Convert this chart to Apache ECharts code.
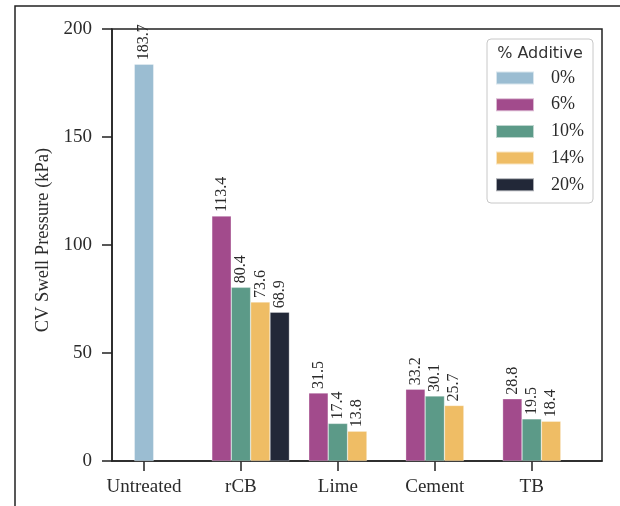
<!DOCTYPE html>
<html>
<head>
<meta charset="utf-8">
<script src="https://cdn.jsdelivr.net/npm/echarts@6/dist/echarts.min.js"></script>
<style>
  html, body { margin: 0; padding: 0; background: #fff; }
  #chart { width: 620px; height: 506px; }
</style>
</head>
<body>
<div id="chart"></div>
<script>
const categories = ["Untreated", "rCB", "Lime", "Cement", "TB"];
const additives = ["0%", "6%", "10%", "14%", "20%"];
const pct0 = [183.7, null, null, null, null];
const pct6 = [null, 113.4, 31.5, 33.2, 28.8];
const pct10 = [null, 80.4, 17.4, 30.1, 19.5];
const pct14 = [null, 73.6, 13.8, 25.7, 18.4];
const pct20 = [null, 68.9, null, null, null];
const yTicks = [0, 50, 100, 150, 200];

const colors = {
  "0%": "#9bbdd2",
  "6%": "#a24b8c",
  "10%": "#5c9a88",
  "14%": "#efbd65",
  "20%": "#222838",
};
const serif = "Liberation Serif";
const ink = "#2b2b2b";

const chart = echarts.init(document.getElementById("chart"));

// pair each value with its category index so the value x axis places it
const toPoints = (vals) => vals.map((v, i) => [i, v]);

const makeBar = (name, vals, axis) => ({
  name,
  type: "bar",
  xAxisIndex: axis,
  barWidth: "20%",
  barGap: "0%",
  itemStyle: { color: colors[name], borderColor: "rgba(255,255,255,0.6)", borderWidth: 0.5 },
  label: {
    show: true,
    position: "top",
    rotate: 90,
    align: "left",
    verticalAlign: "middle",
    distance: 4,
    fontFamily: serif,
    fontSize: 16,
    color: ink,
    formatter: (p) => p.value[1],
  },
  data: toPoints(vals),
});

const xBase = {
  type: "value",
  min: -0.33,
  max: 4.725,
  splitLine: { show: false },
};

const option = {
  backgroundColor: "#fff",
  animation: false,
  grid: {
    left: 112,
    right: 18,
    top: 29,
    bottom: 45,
    show: true,
    borderColor: "#222",
    borderWidth: 1.5,
  },
  xAxis: [
    {
      ...xBase,
      axisLine: { onZero: false, lineStyle: { color: "#222", width: 1.5 } },
      axisTick: { customValues: [0, 1, 2, 3, 4], length: 10, lineStyle: { color: "#222", width: 1.5 } },
      axisLabel: {
        customValues: [0, 1, 2, 3, 4],
        formatter: (v) => categories[Math.round(v)],
        margin: 17,
        fontFamily: serif,
        fontSize: 19,
        color: ink,
      },
    },
    { ...xBase, show: false },
  ],
  yAxis: {
    type: "value",
    min: yTicks[0],
    max: yTicks[yTicks.length - 1],
    interval: 50,
    splitLine: { show: false },
    axisLine: { show: true, onZero: false, lineStyle: { color: "#222", width: 1.5 } },
    axisTick: { show: true, length: 10, lineStyle: { color: "#222", width: 1.5 } },
    axisLabel: { margin: 20, fontFamily: serif, fontSize: 19, color: ink },
    name: "CV Swell Pressure (kPa)",
    nameLocation: "middle",
    nameGap: 59,
    nameTextStyle: { fontFamily: serif, fontSize: 18.5, color: ink, padding: [0, 0, 0, 10] },
  },
  legend: {
    data: additives,
    orient: "vertical",
    left: 495,
    top: 69,
    padding: 0,
    z: 20,
    itemWidth: 38,
    itemHeight: 13,
    itemGap: 8.7,
    icon: "rect",
    textStyle: { fontFamily: serif, fontSize: 18, lineHeight: 18, color: ink, padding: [0, 0, 0, 12] },
  },
  graphic: [
    {
      type: "polyline",
      shape: { points: [[15, 506], [15, 6], [620, 6]] },
      style: { stroke: "#222", lineWidth: 1.5, fill: null },
    },
    {
      type: "rect",
      shape: { x: 487, y: 39, width: 106, height: 164, r: 4 },
      style: { stroke: "#c8c8c8", lineWidth: 1, fill: "#fff" },
      z: 1,
    },
    {
      type: "text",
      x: 540,
      y: 54,
      style: {
        text: "% Additive",
        font: "16px 'DejaVu Sans'",
        fill: "#333",
        align: "center",
        verticalAlign: "middle",
      },
      z: 2,
    },
  ],
  series: [
    // empty slot keeps the hue positions the same as in the source figure
    { name: "pad", type: "bar", barWidth: "20%", barGap: "0%", data: toPoints([null, null, null, null, null]) },
    makeBar("6%", pct6, 0),
    makeBar("10%", pct10, 0),
    makeBar("14%", pct14, 0),
    makeBar("20%", pct20, 0),
    makeBar("0%", pct0, 1),
  ],
};

chart.setOption(option);
</script>
</body>
</html>
